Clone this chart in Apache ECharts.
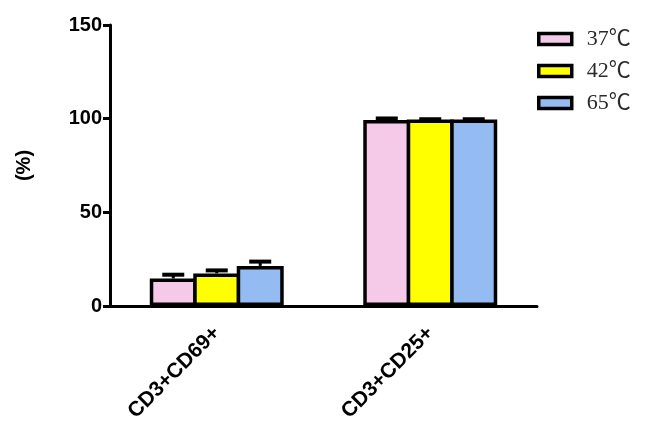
<!DOCTYPE html>
<html><head><meta charset="utf-8">
<script src="https://cdn.jsdelivr.net/npm/echarts@6/dist/echarts.min.js"></script>
<style>html,body{margin:0;padding:0;background:#fff}#c{width:650px;height:426px}</style>
</head><body><div id="c"></div>
<script>
const categories = ['CD3+CD69+', 'CD3+CD25+'];
const seriesNames = ['37℃', '42℃', '65℃'];
const values37 = [14.7, 99.3];
const values42 = [17.4, 99.5];
const values65 = [21.4, 99.5];
const err37 = [2.0, 0.8];
const err42 = [1.6, 0.2];
const err65 = [2.3, 0.2];
const yTicks = [0, 50, 100, 150];
const colors = ['#F4CAE8', '#FFFF00', '#94BCF2'];

const allValues = [values37, values42, values65];
const allErr = [err37, err42, err65];
const BAR_W = 47, GAP_PCT = -7.5;
const STEP = BAR_W * (1 + GAP_PCT / 100);

const chart = echarts.init(document.getElementById('c'));
const series = [];
allValues.forEach((vals, i) => {
  series.push({
    name: seriesNames[i], type: 'bar', data: vals, barWidth: BAR_W, barGap: GAP_PCT + '%',
    itemStyle: { color: colors[i], borderColor: '#000', borderWidth: 3.5 }, z: 2
  });
});
allValues.forEach((vals, i) => {
  series.push({
    type: 'custom', name: seriesNames[i] + ' err', z: 3,
    data: vals.map((v, j) => [j, v, allErr[i][j]]),
    renderItem: function (params, api) {
      const c = api.value(0), v = api.value(1), e = api.value(2);
      const base = api.coord([c, v]);
      const top = api.coord([c, v + e]);
      const x = base[0] + (i - 1) * STEP;
      const hw = 11;
      return { type: 'group', children: [
        { type: 'line', shape: { x1: x, y1: base[1], x2: x, y2: top[1] }, style: { stroke: '#000', lineWidth: 3 } },
        { type: 'line', shape: { x1: x - hw, y1: top[1], x2: x + hw, y2: top[1] }, style: { stroke: '#000', lineWidth: 4 } }
      ]};
    }
  });
});

chart.setOption({
  animation: false,
  grid: { left: 110, top: 25, right: 113, bottom: 120 },
  legend: {
    data: seriesNames, orient: 'vertical', left: 532, top: 23, itemWidth: 33, itemHeight: 11, itemGap: 10,
    icon: 'rect',
    itemStyle: { borderColor: '#000', borderWidth: 3.5 },
    textStyle: { fontFamily: 'Liberation Serif, Noto Sans CJK SC, serif', fontSize: 22, color: '#2a2a2a', padding: [0, 0, 0, 10] }
  },
  xAxis: {
    type: 'category', data: categories,
    axisLine: { lineStyle: { color: '#000', width: 3 } },
    axisTick: { alignWithLabel: true, length: 7, lineStyle: { color: '#000', width: 3 } },
    axisLabel: { rotate: 45, margin: 24, fontFamily: 'Liberation Sans, Arial, sans-serif', fontWeight: 'bold', fontSize: 21, color: '#000' }
  },
  yAxis: {
    type: 'value', min: yTicks[0], max: yTicks[yTicks.length - 1], interval: 50,
    name: '(%)', nameLocation: 'middle', nameRotate: 90, nameGap: 76,
    nameTextStyle: { fontFamily: 'Liberation Sans, Arial, sans-serif', fontWeight: 'bold', fontSize: 20, color: '#000' },
    splitLine: { show: false },
    axisLine: { show: true, lineStyle: { color: '#000', width: 3 } },
    axisTick: { show: true, length: 7, lineStyle: { color: '#000', width: 3 } },
    axisLabel: { margin: 8, fontFamily: 'Liberation Sans, Arial, sans-serif', fontWeight: 'bold', fontSize: 20, color: '#000' }
  },
  series: series
});
</script></body></html>
